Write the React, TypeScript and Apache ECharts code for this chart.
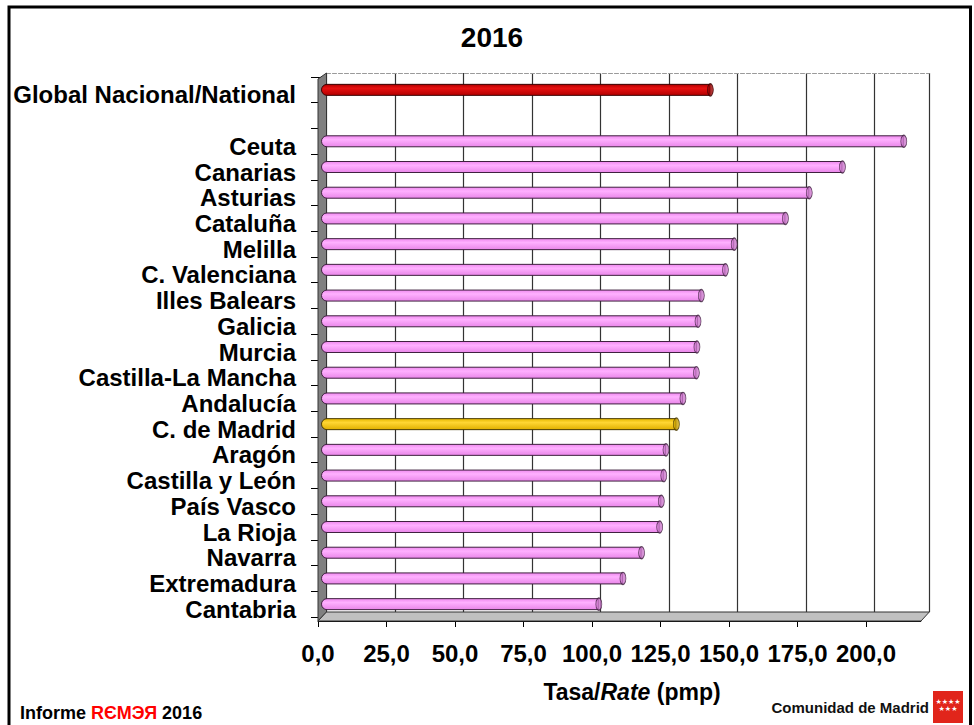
import React, { useEffect, useRef } from "react";
import * as echarts from "echarts";

const categories = [
  "Global Nacional/National",
  "",
  "Ceuta",
  "Canarias",
  "Asturias",
  "Cataluña",
  "Melilla",
  "C. Valenciana",
  "Illes Balears",
  "Galicia",
  "Murcia",
  "Castilla-La Mancha",
  "Andalucía",
  "C. de Madrid",
  "Aragón",
  "Castilla y León",
  "País Vasco",
  "La Rioja",
  "Navarra",
  "Extremadura",
  "Cantabria",
];

const rates: (number | null)[] = [
  142.1, null, 212.7, 190.3, 178.2, 169.5, 150.8, 147.6, 138.8, 137.6, 137.2,
  137.0, 132.1, 129.7, 125.9, 125.1, 124.2, 123.6, 117.0, 110.2, 101.4,
];

const xTickValues = [0, 25, 50, 75, 100, 125, 150, 175, 200];
const xTickLabels = ["0,0", "25,0", "50,0", "75,0", "100,0", "125,0", "150,0", "175,0", "200,0"];

const nationalName = "Global Nacional/National";
const madridName = "C. de Madrid";

const FONT = "'Liberation Sans', Arial, sans-serif";

const palette = {
  pink: { top: "#EE88EE", mid: "#FFB0FF", bottom: "#E986E9", cap: "#CC77CC", border: "#3F203F" },
  red: { top: "#B00000", mid: "#E81010", bottom: "#B30000", cap: "#990000", border: "#3A0000" },
  yellow: { top: "#E6B800", mid: "#FFD633", bottom: "#E0B000", cap: "#C9A000", border: "#4A3A00" },
};

function colorFor(name: string) {
  if (name === nationalName) return palette.red;
  if (name === madridName) return palette.yellow;
  return palette.pink;
}

function grad(c: { top: string; mid: string; bottom: string }) {
  return new echarts.graphic.LinearGradient(0, 0, 0, 1, [
    { offset: 0, color: c.top },
    { offset: 0.35, color: c.mid },
    { offset: 1, color: c.bottom },
  ]);
}

const SCALE_W = 602.8;

export default function App() {
  const ref = useRef<HTMLDivElement>(null);

  useEffect(() => {
    if (!ref.current) return;
    const chart = echarts.init(ref.current, null, { renderer: "svg" });

    const barData = rates.map((v, i) => {
      const c = colorFor(categories[i]);
      return v === null
        ? { value: "-" }
        : { value: v, itemStyle: { color: grad(c), borderColor: c.border } };
    });

    const capData = rates
      .map((v, i) => ({ v, i }))
      .filter((d) => d.v !== null)
      .map((d) => {
        const c = colorFor(categories[d.i]);
        return { value: [d.v, d.i], itemStyle: { color: c.cap, borderColor: c.border } };
      });

    const option: any = {
      animation: false,
      backgroundColor: "#ffffff",
      textStyle: { fontFamily: FONT },
      grid: [
        { left: 326.5, top: 73, width: SCALE_W, height: 539 },
        { left: 321, top: 77, width: SCALE_W, height: 540 },
        { left: 318, top: 77, width: SCALE_W, height: 544 },
      ],
      xAxis: [
        {
          gridIndex: 0,
          type: "value",
          min: 0,
          max: 220,
          interval: 25,
          position: "top",
          axisLine: { show: true, lineStyle: { color: "#9a9a9a", type: "dashed", width: 1 } },
          axisTick: { show: false },
          axisLabel: { show: false },
          splitLine: { show: true, lineStyle: { color: "#333333", width: 1.2 } },
        },
        { gridIndex: 1, type: "value", min: 0, max: 220, show: false },
        {
          gridIndex: 2,
          type: "value",
          min: 0,
          max: 220,
          interval: 25,
          position: "bottom",
          axisLine: { show: true, lineStyle: { color: "#000000", width: 1 } },
          axisTick: { show: true, length: 6, lineStyle: { color: "#000000" }, customValues: xTickValues },
          splitLine: { show: false },
          axisLabel: {
            customValues: xTickValues,
            margin: 20,
            fontSize: 24,
            fontWeight: "bold",
            color: "#000000",
            fontFamily: FONT,
            formatter: (v: number) => {
              const k = xTickValues.indexOf(Math.round(v));
              return k >= 0 ? xTickLabels[k] : "";
            },
          },
        },
      ],
      yAxis: [
        { gridIndex: 0, type: "category", data: categories, inverse: true, show: false },
        {
          gridIndex: 1,
          type: "category",
          data: categories,
          inverse: true,
          axisLine: { show: false },
          axisTick: { show: true, length: 10, interval: 0, lineStyle: { color: "#000000" } },
          axisLabel: {
            interval: 0,
            margin: 25,
            fontSize: 24,
            fontWeight: "bold",
            color: "#000000",
            fontFamily: FONT,
            verticalAlign: "top",
            lineHeight: 10,
          },
        },
        { gridIndex: 2, type: "category", data: categories, inverse: true, show: false },
      ],
      series: [
        {
          type: "bar",
          xAxisIndex: 1,
          yAxisIndex: 1,
          data: barData,
          barWidth: 12,
          z: 5,
          itemStyle: { borderWidth: 1, borderRadius: [6, 0, 0, 6] },
        },
        {
          type: "scatter",
          xAxisIndex: 1,
          yAxisIndex: 1,
          data: capData,
          symbol: "circle",
          symbolSize: [6, 12],
          z: 6,
          itemStyle: { borderWidth: 1 },
        },
      ],
      graphic: [
        {
          type: "polyline",
          z: 20,
          shape: { points: [[9, 725], [9, 7], [970.5, 7], [970.5, 725]] },
          style: { stroke: "#000000", lineWidth: 3, fill: "none" },
        },
        {
          type: "polygon",
          z: 1,
          shape: { points: [[318, 79], [326.5, 73], [326.5, 612], [318, 621]] },
          style: { fill: "#808080", stroke: "#333333", lineWidth: 1 },
        },
        {
          type: "polygon",
          z: 1,
          shape: { points: [[326.5, 612], [929.3, 612], [921, 621], [318, 621]] },
          style: { fill: "#C0C0C0", stroke: "#333333", lineWidth: 1 },
        },
        {
          type: "text",
          z: 10,
          x: 492,
          y: 37,
          style: {
            text: "2016",
            fontSize: 28,
            fontWeight: "bold",
            fontFamily: FONT,
            fill: "#000000",
            align: "center",
            verticalAlign: "middle",
          },
        },
        {
          type: "text",
          z: 10,
          x: 632,
          y: 692,
          style: {
            text: "{a|Tasa/}{b|Rate}{a| (pmp)}",
            align: "center",
            verticalAlign: "middle",
            rich: {
              a: { fontSize: 23, fontWeight: "bold", fontFamily: FONT, fill: "#000000" },
              b: { fontSize: 23, fontWeight: "bold", fontStyle: "italic", fontFamily: FONT, fill: "#000000" },
            },
          },
        },
        {
          type: "text",
          z: 10,
          x: 20,
          y: 713,
          style: {
            text: "{k|Informe }{r|RЄMЭЯ}{k| 2016}",
            align: "left",
            verticalAlign: "middle",
            rich: {
              k: { fontSize: 18, fontWeight: "bold", fontFamily: FONT, fill: "#000000" },
              r: { fontSize: 18, fontWeight: "bold", fontFamily: FONT, fill: "#FF0000" },
            },
          },
        },
        {
          type: "text",
          z: 10,
          x: 929,
          y: 707,
          style: {
            text: "Comunidad de Madrid",
            fontSize: 15,
            fontWeight: "bold",
            fontFamily: FONT,
            fill: "#111111",
            align: "right",
            verticalAlign: "middle",
          },
        },
        {
          type: "rect",
          z: 10,
          shape: { x: 933, y: 691, width: 30, height: 32 },
          style: { fill: "#E1251B" },
        },
        {
          type: "text",
          z: 11,
          x: 948,
          y: 702,
          style: {
            text: "★★★★",
            fontSize: 7,
            fontFamily: "'DejaVu Sans', sans-serif",
            fill: "#ffffff",
            align: "center",
            verticalAlign: "middle",
          },
        },
        {
          type: "text",
          z: 11,
          x: 948,
          y: 709,
          style: {
            text: "★★★",
            fontSize: 7,
            fontFamily: "'DejaVu Sans', sans-serif",
            fill: "#ffffff",
            align: "center",
            verticalAlign: "middle",
          },
        },
      ],
    };

    chart.setOption(option);
    return () => chart.dispose();
  }, []);

  return (
    <div
      ref={ref}
      style={{ position: "absolute", left: 0, top: 0, width: 974, height: 725 }}
    />
  );
}
